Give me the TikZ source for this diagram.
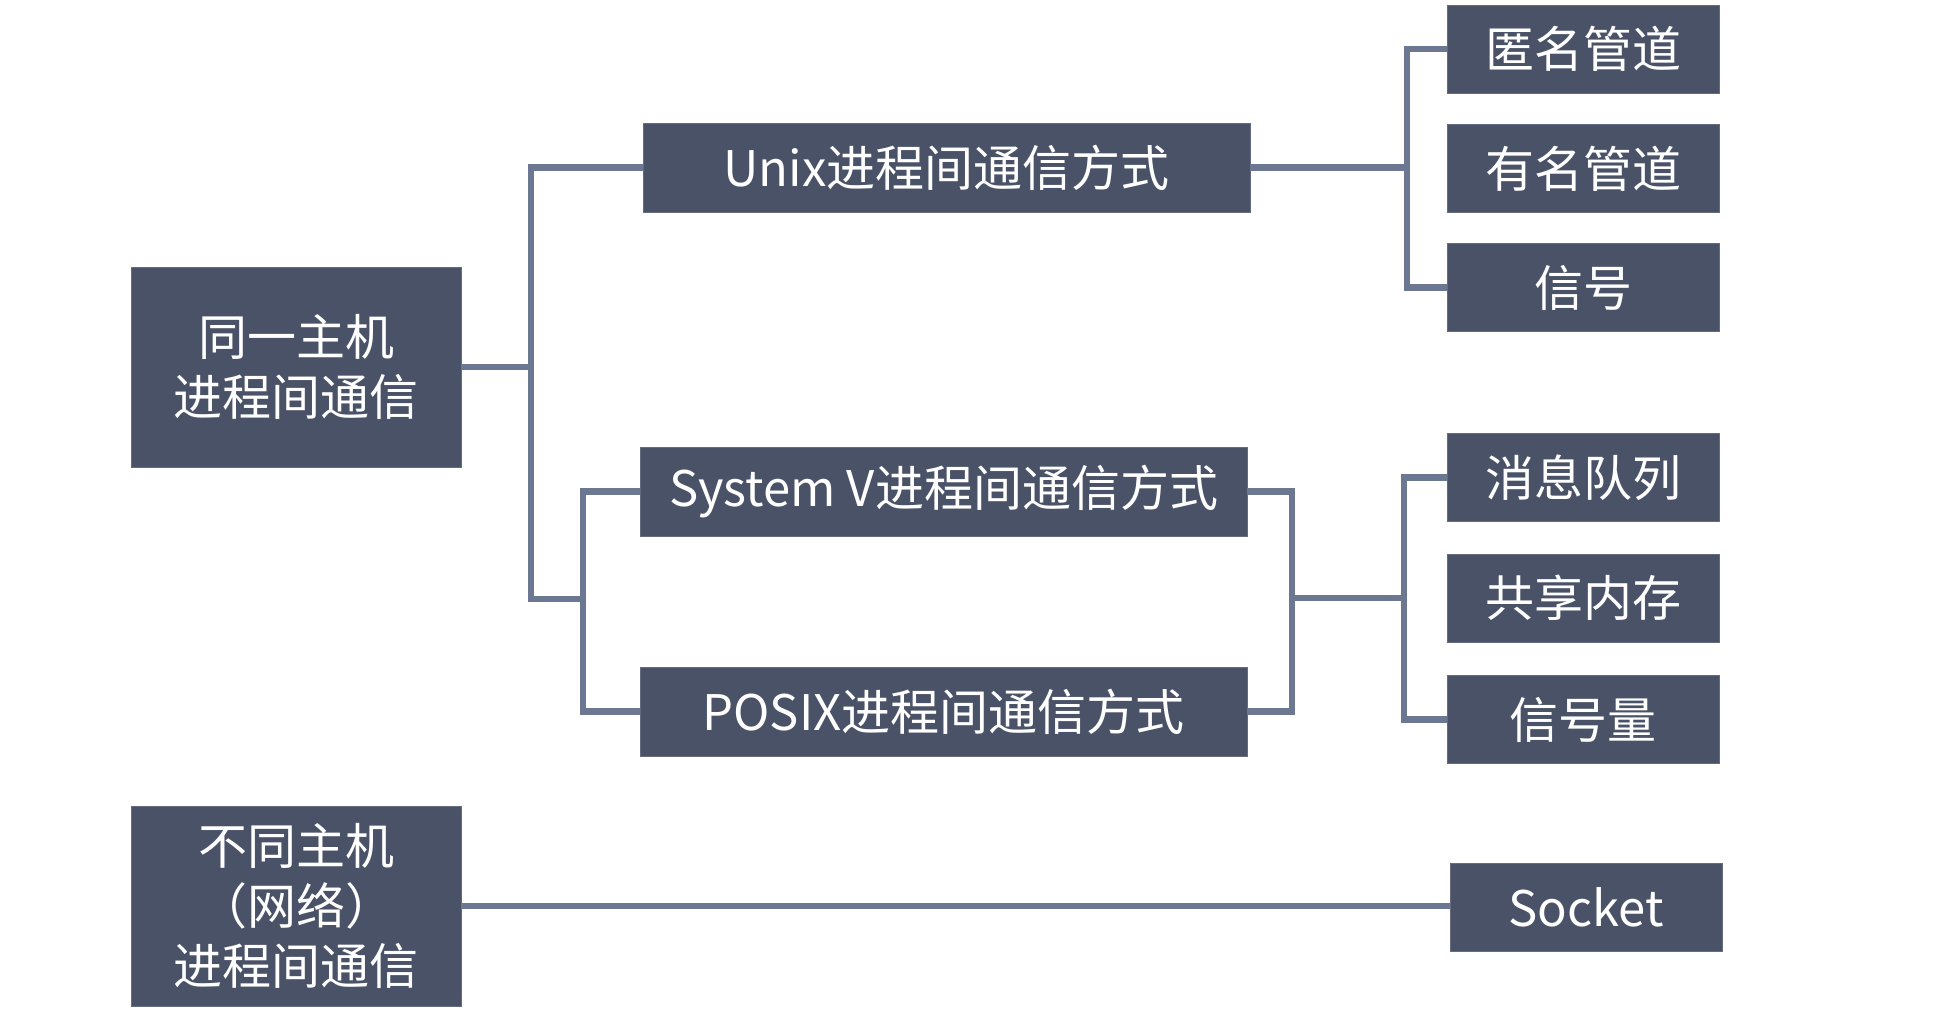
\documentclass[tikz,border=0pt]{standalone}
\usepackage{fontspec}
\setmainfont{Noto Sans CJK SC}
\usetikzlibrary{positioning}

\definecolor{boxfill}{RGB}{74,82,104}
\definecolor{linkline}{RGB}{108,120,146}

\begin{document}
\begin{tikzpicture}[x=0.5pt,y=-0.5pt,
	box/.style={draw=boxfill!85!white,line width=0.4pt,fill=boxfill,text=white,inner sep=0pt,align=center,font=\fontsize{24.5}{30}\selectfont},
	leaf/.style={box,minimum width=136pt,minimum height=44pt},
	way/.style={box,minimum width=303.5pt,minimum height=44.5pt},
	host/.style={box,minimum width=165pt,minimum height=100pt},
	link/.style={draw=linkline,line width=3.2pt}]
	\useasboundingbox (0,0) rectangle (1936,1014);
	
	% x of the vertical bars
	\coordinate (t1)at(531,0);
	\coordinate (t2)at(583,0);
	\coordinate (t3)at(1407,0);
	\coordinate (t4)at(1292,0);
	\coordinate (t5)at(1404,0);
	\coordinate (j1)at(531,599);
	
	\node[host](same)at(296,367){同一主机\\进程间通信};
	\node[host](diff)at(296,906){不同主机\\（网络）\\进程间通信};
	
	\node[way](unix)at(946.5,167.5){Unix进程间通信方式};
	\node[way](sysv)at(943.5,491.5){System V进程间通信方式};
	\node[way](posix)at(943.5,711.5){POSIX进程间通信方式};
	
	\node[leaf](anon)at(1583,49){匿名管道};
	\node[leaf](fifo)at(1583,168.5){有名管道};
	\node[leaf](sig)at(1583,287.5){信号};
	\node[leaf](msg)at(1583,477.5){消息队列};
	\node[leaf](shm)at(1583,598){共享内存};
	\node[leaf](sem)at(1583,719.5){信号量};
	\node[leaf](sock)at(1586,907.5){Socket};
	
	% left tree
	\draw[link](same.east)--(same.east -| t1);
	\draw[link](unix.west)-|(j1)--(j1 -| t2);
	\draw[link](sysv.west)--(sysv.west -| t2)--(posix.west -| t2)--(posix.west);
	
	% right tree
	\draw[link](unix.east)--(unix.east -| t3);
	\draw[link](anon.west)--(anon.west -| t3)--(sig.west -| t3)--(sig.west);
	\draw[link](sysv.east)--(sysv.east -| t4)--(posix.east -| t4)--(posix.east);
	\draw[link](t4 |- shm.west)--(shm.west -| t5);
	\draw[link](msg.west)--(msg.west -| t5)--(sem.west -| t5)--(sem.west);
	
	\draw[link](diff.east)--(diff.east -| sock.west);
\end{tikzpicture}
\end{document}
